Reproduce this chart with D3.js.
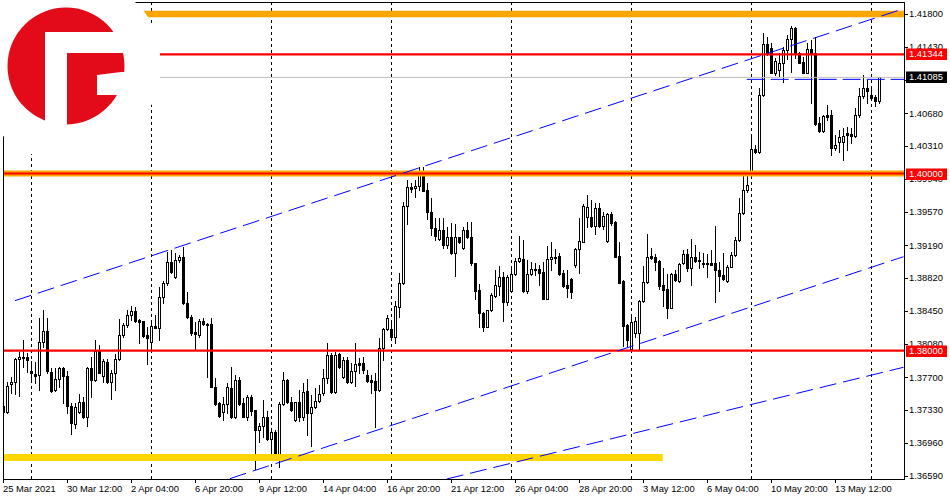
<!DOCTYPE html>
<html><head><meta charset="utf-8">
<script src="https://cdn.jsdelivr.net/npm/d3@7"></script>
<style>
body{margin:0;background:#fff}
svg{display:block}
text{font-family:"Liberation Sans",Arial,sans-serif;font-size:9.4px}
</style>
</head><body>
<svg id="chart" width="950" height="500"></svg>
<script>
// ---------- DATA (GBP-like H4 candles) ----------
const openP = [
1.37375,1.37311,1.37620,1.37650,1.37902,1.37921,1.37925,1.37770,1.37737,1.37725,
1.38094,1.38222,1.37763,1.37556,1.37676,1.37800,1.37714,1.37379,1.37168,1.37304,
1.37417,1.37255,1.37808,1.37669,1.38000,1.37714,1.37876,1.37650,1.37744,1.37906,
1.38177,1.38290,1.38403,1.38448,1.38346,1.38335,1.38177,1.38102,1.38278,1.38252,
1.38602,1.38760,1.39005,1.38828,1.39023,1.39053,1.38534,1.38384,1.38214,1.38177,
1.38335,1.38297,1.38297,1.37594,1.37406,1.37311,1.37398,1.37575,1.37248,1.37669,
1.37406,1.37255,1.37473,1.37330,1.37105,1.37153,1.37248,1.37003,1.37086,1.36804,
1.37398,1.37669,1.37417,1.37217,1.37417,1.37255,1.37549,1.37293,1.37361,1.37436,
1.37519,1.37688,1.37951,1.37530,1.37959,1.37699,1.37895,1.37650,1.37771,1.37857,
1.37857,1.37726,1.37669,1.37662,1.37556,1.38027,1.38241,1.38241,1.38151,1.38497,
1.38760,1.39633,1.39851,1.39833,1.39859,1.40002,1.39814,1.39569,1.39381,1.39261,
1.39362,1.39193,1.39280,1.39099,1.39280,1.39155,1.39362,1.39280,1.38986,1.38685,
1.38422,1.38271,1.38459,1.38621,1.38734,1.38836,1.38553,1.38674,1.38862,1.39016,
1.39031,1.38678,1.38862,1.38911,1.38918,1.38885,1.38583,1.39031,1.39046,1.39069,
1.38873,1.38741,1.38805,1.38967,1.39144,1.39231,1.39513,1.39513,1.39411,1.39607,
1.39411,1.39238,1.39539,1.39456,1.39069,1.38787,1.38290,1.38015,1.38196,1.38196,
1.38561,1.38772,1.39069,1.39054,1.39012,1.38741,1.38696,1.38486,1.38866,1.38787,
1.38986,1.39088,1.38930,1.39054,1.39024,1.38986,1.38986,1.38986,1.38986,1.38911,
1.38854,1.38787,1.38949,1.39080,1.39249,1.39550,1.39814,1.40002,1.40273,1.40246,
1.40886,1.41462,1.41413,1.41138,1.41168,1.41243,1.41394,1.41514,1.41638,1.41356,
1.41262,1.41138,1.41401,1.41356,1.40566,1.40480,1.40660,1.40660,1.40292,1.40359,
1.40359,1.40453,1.40446,1.40427,1.40660,1.40875,1.40961,1.40886,1.40860,1.40822];
const highP = [
1.37451,1.37650,1.37707,1.37913,1.37989,1.38120,1.37970,1.37887,1.37876,1.38365,
1.38459,1.38365,1.37800,1.37800,1.37819,1.37819,1.37774,1.37406,1.37406,1.37507,
1.37481,1.37819,1.37932,1.38120,1.38064,1.37902,1.37902,1.37782,1.37959,1.38357,
1.38308,1.38459,1.38508,1.38497,1.38354,1.38340,1.38271,1.38346,1.38403,1.38722,
1.38786,1.39117,1.39136,1.39099,1.39080,1.39174,1.38666,1.38403,1.38327,1.38354,
1.38365,1.38308,1.38365,1.37688,1.37424,1.37481,1.37631,1.37819,1.37725,1.37707,
1.37462,1.37500,1.37500,1.37330,1.37180,1.37443,1.37323,1.37123,1.37105,1.37424,
1.37755,1.37676,1.37481,1.37420,1.37556,1.37632,1.37677,1.37500,1.37575,1.37613,
1.37790,1.38083,1.37978,1.37989,1.37978,1.37933,1.37925,1.37857,1.38083,1.37914,
1.37925,1.37782,1.37726,1.37745,1.38140,1.38253,1.38403,1.38309,1.38565,1.38881,
1.39682,1.39927,1.39889,1.39927,1.40077,1.40077,1.39890,1.39720,1.39494,1.39494,
1.39494,1.39400,1.39438,1.39430,1.39287,1.39400,1.39449,1.39456,1.38994,1.38753,
1.38433,1.38462,1.38655,1.38911,1.38956,1.38892,1.38854,1.38956,1.39042,1.39295,
1.39249,1.39024,1.39005,1.38986,1.38967,1.39005,1.39182,1.39231,1.39148,1.39106,
1.38911,1.38911,1.38817,1.39155,1.39494,1.39656,1.39757,1.39701,1.39671,1.39663,
1.39569,1.39550,1.39569,1.39464,1.39231,1.38798,1.38301,1.38376,1.38376,1.38572,
1.38960,1.39317,1.39155,1.39088,1.39024,1.38937,1.38862,1.38873,1.38911,1.38986,
1.39137,1.39144,1.39257,1.39193,1.39118,1.39107,1.39088,1.39137,1.39407,1.39005,
1.39099,1.38967,1.39118,1.39287,1.39720,1.39983,1.39983,1.40435,1.40322,1.40961,
1.41582,1.41537,1.41469,1.41300,1.41356,1.41432,1.41563,1.41665,1.41657,1.41375,
1.41319,1.41469,1.41507,1.41537,1.40641,1.40660,1.40773,1.40717,1.40435,1.40491,
1.40510,1.40521,1.40510,1.40736,1.40961,1.41112,1.41055,1.40980,1.40886,1.41093];
const lowP = [
1.37199,1.37300,1.37526,1.37507,1.37492,1.37819,1.37763,1.37650,1.37631,1.37556,
1.38045,1.37744,1.37537,1.37545,1.37594,1.37406,1.37293,1.37056,1.37123,1.37293,
1.37236,1.37153,1.37481,1.37660,1.37744,1.37650,1.37639,1.37451,1.37556,1.37895,
1.38158,1.38271,1.38346,1.38327,1.38083,1.38158,1.37849,1.38007,1.38252,1.38120,
1.38534,1.38741,1.38880,1.38816,1.39005,1.38527,1.38373,1.38177,1.38007,1.38158,
1.38290,1.37707,1.37586,1.37387,1.37255,1.37217,1.37293,1.37236,1.37236,1.37387,
1.37248,1.37217,1.37274,1.36661,1.36973,1.37029,1.36992,1.36841,1.36785,1.36691,
1.37387,1.37406,1.37323,1.37210,1.37210,1.37218,1.37049,1.36924,1.37350,1.37425,
1.37500,1.37639,1.37519,1.37519,1.37801,1.37688,1.37639,1.37639,1.37602,1.37752,
1.37745,1.37650,1.37519,1.37143,1.37549,1.37895,1.38234,1.38121,1.38083,1.38384,
1.38753,1.39430,1.39795,1.39739,1.39814,1.39800,1.39490,1.39306,1.39249,1.39249,
1.39156,1.39155,1.39091,1.38847,1.39212,1.39148,1.39268,1.38967,1.38580,1.38271,
1.38226,1.38263,1.38452,1.38610,1.38629,1.38339,1.38516,1.38666,1.38854,1.39005,
1.38666,1.38655,1.38854,1.38854,1.38741,1.38580,1.38580,1.38911,1.38986,1.38854,
1.38723,1.38610,1.38599,1.38948,1.38873,1.39223,1.39400,1.39400,1.39317,1.39400,
1.39370,1.39231,1.39419,1.39054,1.38760,1.38053,1.38045,1.38008,1.38159,1.38008,
1.38553,1.38760,1.39031,1.38911,1.38696,1.38508,1.38373,1.38478,1.38790,1.38779,
1.38979,1.38900,1.38742,1.39005,1.38930,1.38949,1.38836,1.38967,1.38553,1.38678,
1.38798,1.38779,1.38941,1.39073,1.39242,1.39543,1.39795,1.39983,1.40235,1.40235,
1.40875,1.41337,1.41131,1.41112,1.41100,1.41037,1.41289,1.41149,1.41300,1.41243,
1.41131,1.41131,1.40792,1.40547,1.40472,1.40472,1.40604,1.40209,1.40265,1.40246,
1.40152,1.40265,1.40340,1.40416,1.40641,1.40848,1.40792,1.40848,1.40762,1.40792];
const closeP = [
1.37311,1.37605,1.37650,1.37902,1.37932,1.37932,1.37895,1.37744,1.37718,1.38094,
1.38222,1.37770,1.37548,1.37676,1.37800,1.37714,1.37379,1.37180,1.37360,1.37417,
1.37248,1.37808,1.37669,1.38000,1.37752,1.37883,1.37650,1.37752,1.37906,1.38177,
1.38290,1.38403,1.38448,1.38339,1.38327,1.38169,1.38139,1.38278,1.38260,1.38602,
1.38760,1.39005,1.38892,1.39023,1.39053,1.38534,1.38384,1.38203,1.38184,1.38335,
1.38297,1.38286,1.37594,1.37398,1.37266,1.37398,1.37594,1.37248,1.37669,1.37398,
1.37255,1.37473,1.37323,1.37105,1.37153,1.37248,1.37003,1.37086,1.36804,1.37398,
1.37669,1.37417,1.37330,1.37417,1.37255,1.37538,1.37293,1.37361,1.37436,1.37511,
1.37688,1.37951,1.37530,1.37951,1.37812,1.37895,1.37650,1.37771,1.37850,1.37842,
1.37782,1.37662,1.37650,1.37556,1.38027,1.38241,1.38365,1.38151,1.38505,1.38760,
1.39633,1.39851,1.39821,1.39859,1.40002,1.39806,1.39569,1.39381,1.39295,1.39362,
1.39193,1.39280,1.39099,1.39280,1.39231,1.39362,1.39280,1.38986,1.38678,1.38422,
1.38271,1.38459,1.38629,1.38741,1.38836,1.38553,1.38828,1.38862,1.39016,1.39042,
1.38678,1.38862,1.38918,1.38918,1.38881,1.38583,1.39031,1.39054,1.39054,1.38866,
1.38734,1.38711,1.38666,1.39144,1.39238,1.39633,1.39626,1.39411,1.39607,1.39411,
1.39520,1.39539,1.39445,1.39061,1.38768,1.38282,1.38121,1.38320,1.38339,1.38565,
1.38772,1.39061,1.39050,1.39005,1.38734,1.38685,1.38486,1.38862,1.38798,1.38975,
1.39088,1.38930,1.39054,1.39016,1.39009,1.38975,1.38975,1.38967,1.38911,1.38847,
1.38806,1.38949,1.39080,1.39249,1.39550,1.39814,1.39870,1.40273,1.40246,1.40886,
1.41462,1.41356,1.41138,1.41273,1.41251,1.41394,1.41514,1.41638,1.41345,1.41251,
1.41138,1.41401,1.41345,1.40555,1.40480,1.40649,1.40641,1.40292,1.40322,1.40416,
1.40423,1.40435,1.40427,1.40660,1.40875,1.40961,1.40935,1.40856,1.40822,1.41085];

const xTickBars   = [0,16,32,48,64,80,96,112,128,144,160,176,192,208];
const xTickLabels = ["25 Mar 2021","30 Mar 12:00","2 Apr 04:00","6 Apr 20:00","9 Apr 12:00",
  "14 Apr 04:00","16 Apr 20:00","21 Apr 12:00","26 Apr 04:00","28 Apr 20:00",
  "3 May 12:00","6 May 04:00","10 May 20:00","13 May 12:00"];
const yTickValues = [1.418,1.4143,1.4106,1.4068,1.4031,1.3994,1.3957,1.3919,
  1.3882,1.3845,1.3808,1.3770,1.3733,1.3696,1.3659];
const gridBars = [7,37,67,97,127,157,187,217];

const zoneTop     = 1.41800;   // orange band
const resistance  = 1.41344;   // red line
const bidPrice    = 1.41085;   // current price
const blueLevel   = 1.41063;   // blue dashed horizontal
const blueLevelStartBar = 185.8;
const roundLevel  = 1.40000;   // orange + red
const supportLvl  = 1.38000;   // red
const zoneBottom  = 1.36794;   // yellow band
const zoneBottomEndBar = 164.8;
// channel lines: [bar, price] pairs
const channelUpper  = [[2.875,1.38565],[225,1.41860]];
const channelMiddle = [[56.6,1.36556],[225,1.39061]];
const channelLower  = [[110.8,1.36552],[225,1.37813]];

// ---------- DRAW ----------
const svg = d3.select("#chart");
const L = 3, R = 904, T = 2, B = 479;
const x = d3.scaleLinear().domain([0, 219]).range([3.5, 879.5]);
const y = d3.scaleLinear().domain([1.36552, 1.41936]).range([B, T]);
const fmt = d3.format(".5f");

svg.append("defs").append("clipPath").attr("id","plot")
  .append("rect").attr("x",L).attr("y",T).attr("width",R-L).attr("height",B-T);

const plot = svg.append("g").attr("clip-path","url(#plot)");

// vertical grid
plot.selectAll("line.grid").data(gridBars).join("line")
  .attr("x1",d=>Math.round(x(d)-0.5)+0.5).attr("x2",d=>Math.round(x(d)-0.5)+0.5)
  .attr("y1",T).attr("y2",B)
  .attr("stroke","#000").attr("stroke-width",1).attr("stroke-dasharray","3,3")
  .attr("shape-rendering","crispEdges");

// candles
const idx = d3.range(openP.length);
const px = i => Math.round(x(i)-0.5)+0.5;
const cg = plot.append("g").attr("shape-rendering","crispEdges");
cg.selectAll("line.wick").data(idx).join("line")
  .attr("x1",px).attr("x2",px)
  .attr("y1",i=>Math.round(y(highP[i]))).attr("y2",i=>Math.round(y(lowP[i]))+1)
  .attr("stroke","#000").attr("stroke-width",1);
cg.selectAll("rect.body").data(idx).join("rect")
  .each(function(i){
    const o=openP[i], c=closeP[i];
    const top=Math.round(y(Math.max(o,c))), bot=Math.round(y(Math.min(o,c)));
    const h=Math.max(bot-top,1);
    const s=d3.select(this);
    if (c>=o) {
      s.attr("x",px(i)-1).attr("y",top+0.5).attr("width",2).attr("height",h)
       .attr("fill","#fff").attr("stroke","#000").attr("stroke-width",1);
    } else {
      s.attr("x",px(i)-1.5).attr("y",top).attr("width",3).attr("height",h+1)
       .attr("fill","#000");
    }
  });

// horizontal zones / levels
plot.append("line").attr("x1",L).attr("x2",R).attr("y1",y(zoneTop)).attr("y2",y(zoneTop))
  .attr("stroke","#FFA500").attr("stroke-width",6.5);
plot.append("line").attr("x1",L).attr("x2",R).attr("y1",y(roundLevel)).attr("y2",y(roundLevel))
  .attr("stroke","#FFA500").attr("stroke-width",6);
plot.append("line").attr("x1",L).attr("x2",x(zoneBottomEndBar)).attr("y1",y(zoneBottom)).attr("y2",y(zoneBottom))
  .attr("stroke","#FFD700").attr("stroke-width",7);
plot.append("line").attr("x1",L).attr("x2",R).attr("y1",y(bidPrice)).attr("y2",y(bidPrice))
  .attr("stroke","#C0C0C0").attr("stroke-width",1);
[resistance, roundLevel, supportLvl].forEach(v=>{
  plot.append("line").attr("x1",L).attr("x2",R).attr("y1",y(v)).attr("y2",y(v))
    .attr("stroke","#FF0000").attr("stroke-width",2.2);
});
plot.append("line").attr("x1",x(blueLevelStartBar)).attr("x2",R)
  .attr("y1",y(blueLevel)).attr("y2",y(blueLevel))
  .attr("stroke","#0000FF").attr("stroke-width",1).attr("stroke-dasharray","18,6");

// channel lines
const lineGen = d3.line().x(d=>x(d[0])).y(d=>y(d[1]));
[channelUpper, channelMiddle, channelLower].forEach(c=>{
  plot.append("path").attr("d",lineGen(c)).attr("fill","none")
    .attr("stroke","#0000FF").attr("stroke-width",1).attr("stroke-dasharray","17,7");
});

// frame
const fr = svg.append("g").attr("stroke","#000").attr("stroke-width",1).attr("shape-rendering","crispEdges");
fr.append("line").attr("x1",L+0.5).attr("x2",L+0.5).attr("y1",T).attr("y2",B+4);
fr.append("line").attr("x1",L).attr("x2",R+1).attr("y1",B+0.5).attr("y2",B+0.5);
fr.append("line").attr("x1",R+0.5).attr("x2",R+0.5).attr("y1",T).attr("y2",B+1);
fr.append("line").attr("x1",L).attr("x2",R+1).attr("y1",T+0.5).attr("y2",T+0.5);

// x ticks & labels
xTickBars.forEach((b,k)=>{
  fr.append("line").attr("x1",px(b)).attr("x2",px(b)).attr("y1",B).attr("y2",B+4);
  svg.append("text").attr("x",px(b)-0.5).attr("y",491.5).attr("fill","#000").text(xTickLabels[k]);
});

// y ticks & labels
yTickValues.forEach(v=>{
  fr.append("line").attr("x1",R).attr("x2",R+4).attr("y1",Math.round(y(v))+0.5).attr("y2",Math.round(y(v))+0.5);
  svg.append("text").attr("x",909).attr("y",y(v)).attr("dy","0.36em").attr("fill","#000").text(fmt(v));
});

// price tags
[[resistance,"#FF0000"],[bidPrice,"#000000"],[roundLevel,"#FF0000"],[supportLvl,"#FF0000"]].forEach(([v,col])=>{
  const yy=Math.round(y(v));
  svg.append("rect").attr("x",906).attr("y",yy-5.5).attr("width",41).attr("height",11.5).attr("fill",col);
  svg.append("text").attr("x",909).attr("y",yy).attr("dy","0.36em").attr("fill","#fff").text(fmt(v));
});

// logo overlay
svg.append("path")
  .attr("d","M0,0 L135,0 L135,2 L143,10 L150,20 L153,27 L160,28 L160,98 L150,106 L120,130 L80,148 L40,155 L31,154 L3,136 L0,134 Z")
  .attr("fill","#fff");
const logo = svg.append("g");
logo.append("circle").attr("cx",66).attr("cy",66).attr("r",58.5).attr("fill","#E30B1A");
logo.append("rect").attr("x",45).attr("y",32).attr("width",22).attr("height",100).attr("rx",2).attr("fill","#fff");
logo.append("rect").attr("x",45).attr("y",32).attr("width",90).attr("height",21).attr("fill","#fff");
logo.append("path").attr("d","M97,75 L121,72 L130,72 L130,95 L97,95 Z").attr("fill","#fff");
</script>
</body></html>
